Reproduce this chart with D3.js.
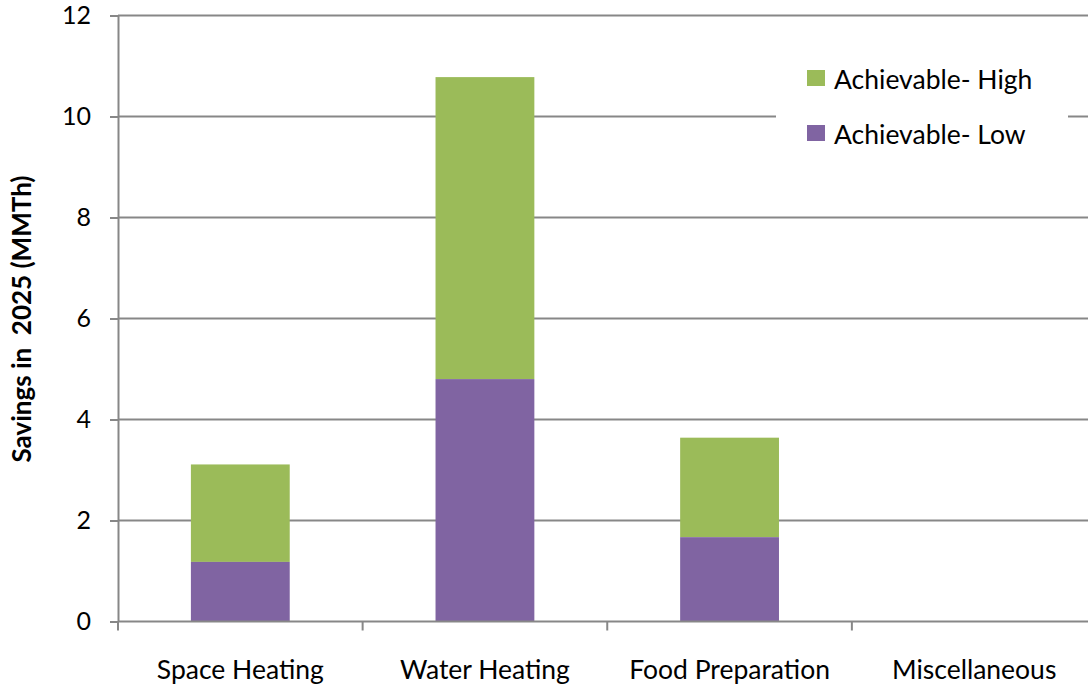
<!DOCTYPE html>
<html>
<head>
<meta charset="utf-8">
<script src="https://cdn.jsdelivr.net/npm/d3@7"></script>
<style>
  html, body { margin: 0; padding: 0; background: #fff; }
  svg { display: block; }
  text { font-family: Lato, "Open Sans", sans-serif; fill: #000; white-space: pre; }
</style>
</head>
<body>
<svg id="chart" width="1088" height="687"></svg>
<script>
// End-use categories and savings (MMTh) in 2025
const categories = ["Space Heating", "Water Heating", "Food Preparation", "Miscellaneous"];
const achievableLow = [1.18, 4.8, 1.67, 0];
const achievableHigh = [3.11, 10.78, 3.64, 0];   // stacked total (low + increment)
const seriesNames = ["Achievable- High", "Achievable- Low"];
const seriesColors = ["#9BBB59", "#8064A2"];
const yTicks = [0, 2, 4, 6, 8, 10, 12];
const yTitle = "Savings in  2025 (MMTh)";

const svg = d3.select("#chart");
const W = 1088, H = 687;
const m = { left: 118, top: 15.5, bottom: 621.5 };
const plotRight = 1096.5;   // last band runs past the visible edge
const gridGray = "#878787";

const x = d3.scaleBand().domain(categories).range([m.left, plotRight]).padding(0);
const y = d3.scaleLinear().domain([0, 12]).range([m.bottom, m.top]);
const barW = x.bandwidth() * 0.404;

// horizontal gridlines
svg.append("g")
  .selectAll("line")
  .data(yTicks.filter(d => d > 0))
  .join("line")
  .attr("x1", m.left).attr("x2", W)
  .attr("y1", d => y(d)).attr("y2", d => y(d))
  .attr("stroke", gridGray).attr("stroke-width", 2);

// stacked bars
const rows = categories.map((c, i) => ({ c, low: achievableLow[i], high: achievableHigh[i] }));
const bars = svg.append("g");
bars.selectAll("rect.high")
  .data(rows.filter(d => d.high > d.low))
  .join("rect")
  .attr("class", "high")
  .attr("x", d => x(d.c) + (x.bandwidth() - barW) / 2)
  .attr("width", barW)
  .attr("y", d => y(d.high))
  .attr("height", d => y(d.low) - y(d.high))
  .attr("fill", seriesColors[0]);
bars.selectAll("rect.low")
  .data(rows.filter(d => d.low > 0))
  .join("rect")
  .attr("class", "low")
  .attr("x", d => x(d.c) + (x.bandwidth() - barW) / 2)
  .attr("width", barW)
  .attr("y", d => y(d.low))
  .attr("height", d => y(0) - y(d.low))
  .attr("fill", seriesColors[1]);

// y axis
const yAxis = svg.append("g")
  .attr("transform", `translate(${m.left},0)`)
  .call(d3.axisLeft(y).tickValues(yTicks).tickSize(8).tickPadding(19).tickSizeOuter(0));
yAxis.select(".domain").attr("stroke", gridGray).attr("stroke-width", 2);
yAxis.selectAll(".tick line").attr("stroke", gridGray).attr("stroke-width", 2);
yAxis.selectAll(".tick text").attr("font-size", 25).attr("font-family", "Lato, sans-serif").attr("fill", "#000");

// x axis: ticks at band boundaries, labels at band centres
const xAxisG = svg.append("g");
xAxisG.append("line")
  .attr("x1", m.left).attr("x2", W)
  .attr("y1", y(0)).attr("y2", y(0))
  .attr("stroke", gridGray).attr("stroke-width", 2);
xAxisG.selectAll("line.tick")
  .data(categories)
  .join("line")
  .attr("class", "tick")
  .attr("x1", d => x(d)).attr("x2", d => x(d))
  .attr("y1", y(0)).attr("y2", y(0) + 9)
  .attr("stroke", gridGray).attr("stroke-width", 2);
xAxisG.selectAll("text")
  .data(categories)
  .join("text")
  .attr("x", d => x(d) + x.bandwidth() / 2)
  .attr("y", 679)
  .attr("text-anchor", "middle")
  .attr("font-size", 26.5)
  .text(d => d);

// y title
svg.append("text")
  .attr("transform", `translate(31,319) rotate(-90)`)
  .attr("text-anchor", "middle")
  .attr("font-size", 26)
  .attr("font-weight", "bold")
  .text(yTitle);

// legend
const lg = svg.append("g");
lg.append("rect")
  .attr("x", 776).attr("y", 55).attr("width", 292).attr("height", 100)
  .attr("fill", "#fff");
const items = lg.selectAll("g.item")
  .data(seriesNames)
  .join("g")
  .attr("class", "item")
  .attr("transform", (d, i) => `translate(807,${70 + i * 55})`);
items.append("rect")
  .attr("width", 18).attr("height", 16)
  .attr("fill", (d, i) => seriesColors[i]);
items.append("text")
  .attr("x", 27).attr("y", 18.5)
  .attr("font-size", 26.5)
  .text(d => d);
</script>
</body>
</html>
